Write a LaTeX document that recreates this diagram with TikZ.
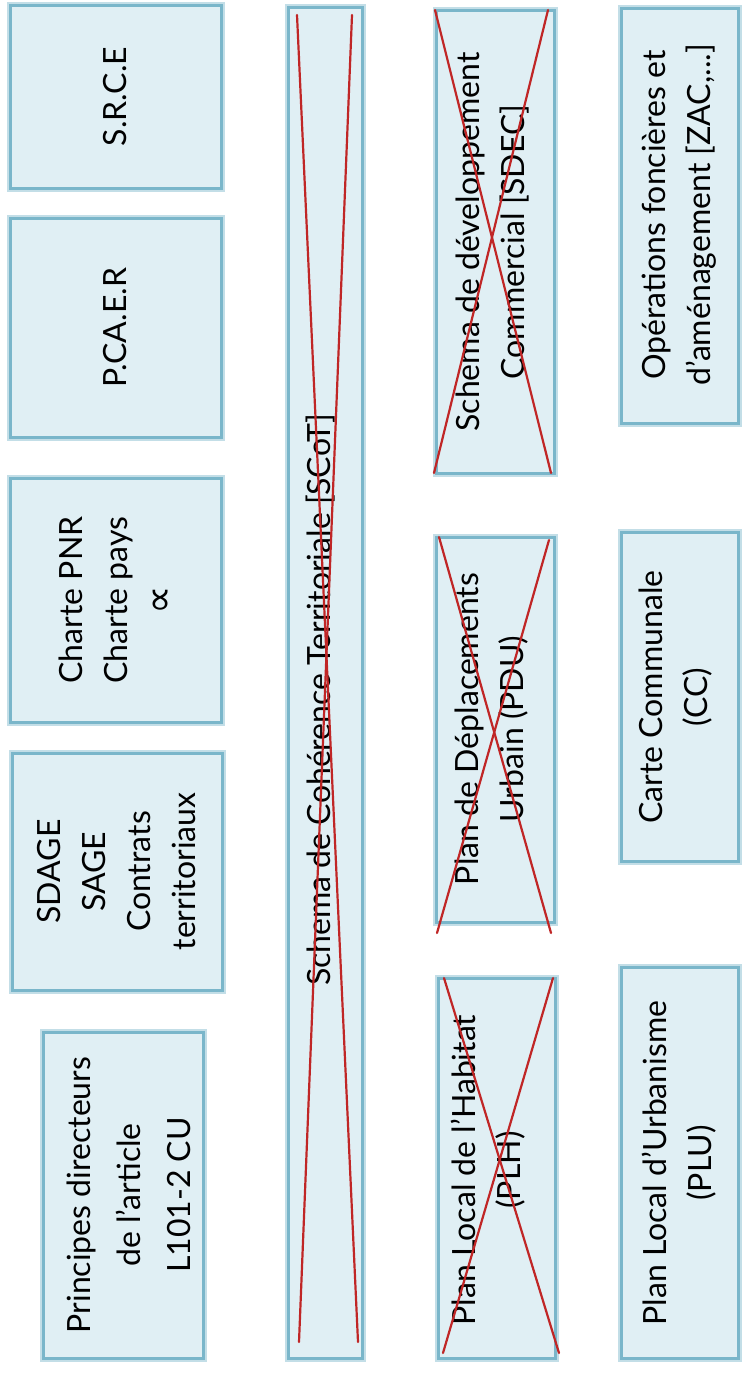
\documentclass[tikz,border=0pt]{standalone}
\usepackage{fontspec}
\setmainfont{Lato}
\newfontfamily\symfont{DejaVu Sans}
\definecolor{boxfill}{RGB}{224,239,244}
\definecolor{boxedge}{RGB}{122,182,202}
\definecolor{crossred}{RGB}{192,38,38}
\tikzset{
  x=1pt, y=-1pt,
  box/.style={draw=boxedge, fill=boxfill, line width=3pt, inner sep=0pt,
    preaction={draw=boxedge!45, line width=7pt}},
  lbl/.style={rotate=90, align=center, inner sep=0pt,
    font=\fontsize{32}{45}\selectfont},
  cross/.style={draw=crossred, line width=2.2pt, line cap=round},
}
\begin{document}
\begin{tikzpicture}
\useasboundingbox (0,0) rectangle (748,1373);
\fill[white] (0,0) rectangle (748,1373);

% column 1
\node[box, minimum width=211pt, minimum height=183pt] (srce) at (115.5,96.5) {};
\node[box, minimum width=211pt, minimum height=219pt] (pcaer) at (115.5,327.5) {};
\node[box, minimum width=211pt, minimum height=244pt] (charte) at (115.5,600) {};
\node[box, minimum width=210pt, minimum height=237pt] (sdage) at (117,871.5) {};
\node[box, minimum width=160pt, minimum height=326pt] (princ) at (123,1195) {};

% column 2
\node[box, minimum width=74pt, minimum height=1351pt] (scot) at (325,682.5) {};

% column 3
\node[box, minimum width=118pt, minimum height=463pt] (sdec) at (495,241.5) {};
\node[box, minimum width=118pt, minimum height=385pt] (pdu) at (495,729.5) {};
\node[box, minimum width=117pt, minimum height=380pt] (plh) at (496.5,1168) {};

% column 4
\node[box, minimum width=117pt, minimum height=415pt] (ops) at (679.5,215.5) {};
\node[box, minimum width=117pt, minimum height=329pt] (cc) at (679.5,696.5) {};
\node[box, minimum width=117pt, minimum height=391pt] (plu) at (679.5,1162.5) {};

% labels
\node[lbl] (srce-t) at (srce) {S.R.C.E};
\node[lbl] (pcaer-t) at (pcaer) {P.CA.E.R};
\node[lbl] (charte-t) at (charte) {Charte PNR\\Charte pays\\{\symfont\fontsize{40}{45}\selectfont ∝}};
\node[lbl] (sdage-t) at (sdage) {SDAGE\\SAGE\\Contrats\\territoriaux};
\node[lbl, font=\fontsize{32}{50}\selectfont] (princ-t) at (129,1195) {Principes directeurs\\de l'article\\L101-2 CU};
\node[lbl] (scot-t) at (321,700) {Schema de Cohérence Territoriale [SCoT]};
\node[lbl] (sdec-t) at (493,242) {Schema de développement\\Commercial [SDEC]};
\node[lbl] (pdu-t) at (492,729) {Plan de Déplacements\\Urbain (PDU)};
\node[lbl] (plh-t) at (488,1170) {Plan Local de l'Habitat\\(PLH)};
\node[lbl] (ops-t) at (679,215) {Opérations foncières et\\d'aménagement [ZAC,...]};
\node[lbl] (cc-t) at (676,697) {Carte Communale\\(CC)};
\node[lbl] (plu-t) at (679,1163) {Plan Local d'Urbanisme\\(PLU)};

% crossing-out lines
\coordinate (scotA) at (297,15);   \coordinate (scotB) at (358,1342);
\coordinate (scotC) at (352,15);   \coordinate (scotD) at (299,1342);
\coordinate (sdecA) at (435,10);   \coordinate (sdecB) at (551,473);
\coordinate (sdecC) at (548,10);   \coordinate (sdecD) at (434,473);
\coordinate (pduA) at (439,537);   \coordinate (pduB) at (551,933);
\coordinate (pduC) at (549,540);   \coordinate (pduD) at (437,933);
\coordinate (plhA) at (444,978);   \coordinate (plhB) at (559,1353);
\coordinate (plhC) at (553,978);   \coordinate (plhD) at (443,1353);
\draw[cross] (scotA) -- (scotB);
\draw[cross] (scotC) -- (scotD);
\draw[cross] (sdecA) -- (sdecB);
\draw[cross] (sdecC) -- (sdecD);
\draw[cross] (pduA) -- (pduB);
\draw[cross] (pduC) -- (pduD);
\draw[cross] (plhA) -- (plhB);
\draw[cross] (plhC) -- (plhD);
\end{tikzpicture}
\end{document}
